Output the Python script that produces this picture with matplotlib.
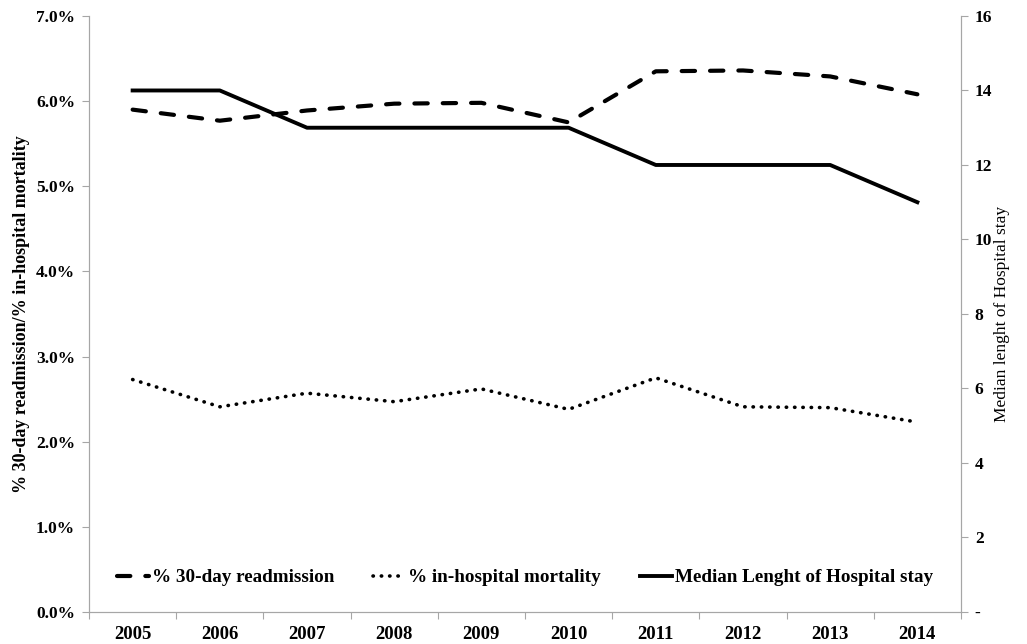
import numpy as np
import matplotlib
matplotlib.use('Agg')
from matplotlib import pyplot as plt
from matplotlib.ticker import FuncFormatter

# Data
years = ['2005', '2006', '2007', '2008', '2009', '2010', '2011', '2012', '2013', '2014']
readmission = [5.90, 5.77, 5.89, 5.97, 5.98, 5.75, 6.35, 6.36, 6.29, 6.08]  # %
mortality = [2.73, 2.41, 2.57, 2.47, 2.62, 2.38, 2.75, 2.41, 2.40, 2.23]    # %
median_los = [14, 14, 13, 13, 13, 13, 12, 12, 12, 11]                       # days

plt.rcParams['font.family'] = ['Liberation Serif', 'DejaVu Serif']
grey = '#a6a6a6'

fig = plt.figure(figsize=(10.27, 6.44), dpi=100)
ax = fig.add_axes([0.0867, 0.0497, 0.849, 0.9255])
ax2 = ax.twinx()

x = np.arange(len(years))
l1, = ax.plot(x, readmission, color='black', lw=3.0, dashes=(3.2, 3.6),
              dash_capstyle='round', label='% 30-day readmission')
l2, = ax.plot(x, mortality, color='black', lw=2.6, dashes=(0.1, 2.2),
              dash_capstyle='round', label='% in-hospital mortality')
l3, = ax2.plot(x, median_los, color='black', lw=2.8,
               label='Median Lenght of Hospital stay')

ax.set_xlim(-0.5, len(years) - 0.5)
ax.set_ylim(0, 7)
ax2.set_ylim(0, 16)

ax.set_yticks(np.arange(0, 7.01, 1))
ax.yaxis.set_major_formatter(FuncFormatter(lambda v, p: '%.1f%%' % v))
ax2.set_yticks(np.arange(0, 16.1, 2))
ax2.yaxis.set_major_formatter(FuncFormatter(lambda v, p: '-' if v == 0 else '%d' % v))

# category axis: ticks between categories, labels at centres
ax.set_xticks(np.arange(-0.5, len(years), 1))
ax.set_xticklabels([])
ax.set_xticks(x, minor=True)
ax.set_xticklabels(years, minor=True)
ax.tick_params(axis='x', which='minor', length=0, pad=10, labelsize=13.5)
ax.tick_params(axis='x', which='major', length=5, color=grey)

for a in (ax, ax2):
    a.spines['top'].set_visible(False)
    for s in ('left', 'right', 'bottom'):
        a.spines[s].set_color(grey)
    a.tick_params(axis='y', length=5, color=grey, labelsize=12.5, pad=5)
for lab in ax.get_xticklabels(minor=True) + ax.get_yticklabels() + ax2.get_yticklabels():
    lab.set_fontweight('bold')

ax.set_ylabel('% 30-day readmission/% in-hospital mortality', fontsize=13,
              fontweight='bold', labelpad=4)
ax2.set_ylabel('Median lenght of Hospital stay', fontsize=12.5, labelpad=1)

leg = ax.legend(handles=[l1, l2, l3], loc='lower center', bbox_to_anchor=(0.5, 0.014),
                ncol=3, frameon=False, handlelength=1.7, columnspacing=2.0,
                handletextpad=0.15, prop={'weight': 'bold', 'size': 13.8})

plt.savefig('out.png', dpi=100)
